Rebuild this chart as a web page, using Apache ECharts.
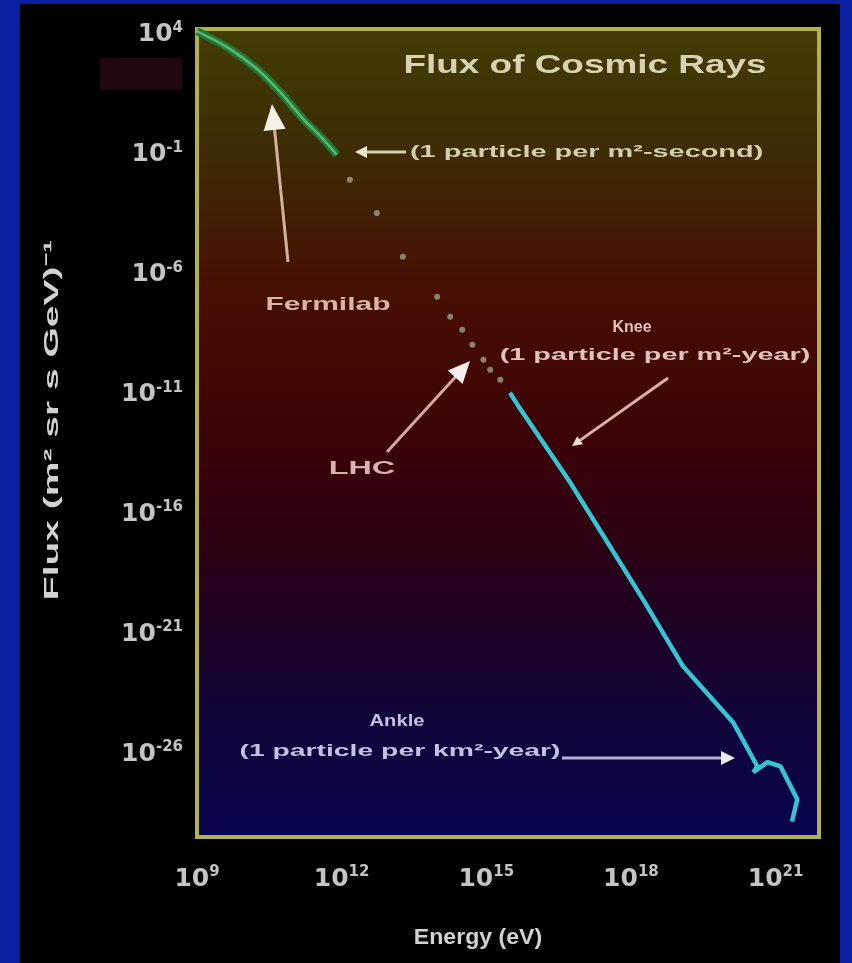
<!DOCTYPE html>
<html><head><meta charset="utf-8">
<script src="https://cdn.jsdelivr.net/npm/echarts@6/dist/echarts.min.js"></script>
<style>html,body{margin:0;padding:0;background:#0b1fa3;}#c{width:852px;height:963px;}</style>
</head><body><div id="c"></div>
<script>
// Axis tick exponents (labels read as 10^n)
const xTickExponents = [9, 12, 15, 18, 21];
const yTickExponents = [4, -1, -6, -11, -16, -21, -26];

// Values are log10(Energy / eV) and log10(Flux)
const lowLogE  = [9.0, 9.12, 9.68, 10.24, 10.72, 11.20, 11.61, 11.90];
const lowLogF  = [4.15, 4.04, 3.42, 2.59, 1.63, 0.50, -0.33, -1.0];
const dotLogE  = [12.17, 12.73, 13.27, 13.98, 14.25, 14.50, 14.71, 14.94, 15.08, 15.29];
const dotLogF  = [-2.04, -3.42, -5.25, -6.92, -7.75, -8.29, -8.92, -9.54, -9.96, -10.38];
const highLogE = [15.49, 15.66, 16.72, 18.25, 19.08, 20.12, 20.62, 20.54, 20.83, 21.10, 21.45, 21.34];
const highLogF = [-10.92, -11.46, -14.6, -19.54, -22.33, -24.67, -26.5, -26.75, -26.33, -26.5, -27.88, -28.8];

const pairs = (a, b) => a.map((v, i) => [v, b[i]]);
const FONT = '"Liberation Sans", Arial, sans-serif';
const TICKFONT = '"DejaVu Sans", sans-serif';

function arrow(x1, y1, x2, y2, color, headColor, w, hl, hw) {
  const dx = x2 - x1, dy = y2 - y1, L = Math.hypot(dx, dy), ux = dx / L, uy = dy / L;
  const bx = x2 - ux * hl, by = y2 - uy * hl, px = -uy, py = ux;
  return [
    {type: 'polyline', z: 10, shape: {points: [[x1, y1], [bx + ux * 2, by + uy * 2]]}, style: {stroke: color, lineWidth: w}},
    {type: 'polygon', z: 10, shape: {points: [[x2, y2], [bx + px * hw, by + py * hw], [bx - px * hw, by - py * hw]]}, style: {fill: headColor}}
  ];
}
function label(text, x, y, size, color, sx, align, rot) {
  return {type: 'text', z: 10, x: x, y: y, scaleX: sx || 1, rotation: rot || 0,
    style: {text: text, fill: color, fontSize: size, fontWeight: 'bold', fontFamily: FONT,
      align: align || 'center', verticalAlign: 'middle'}};
}
const supFmt = v => '{b|10}{s|' + v + '}';
const richLab = {
  b: {fontSize: 25, color: '#c4c4c4', fontFamily: TICKFONT, fontWeight: 'bold'},
  s: {fontSize: 15, color: '#c4c4c4', fontFamily: TICKFONT, fontWeight: 'bold', padding: [0, 0, 14, 0]}
};

const chart = echarts.init(document.getElementById('c'));
chart.setOption({
  backgroundColor: '#0b1fa3',
  animation: false,
  grid: {left: 197, top: 29, right: 33, bottom: 126, show: true,
    borderColor: '#b4b04c', borderWidth: 4,
    backgroundColor: {type: 'linear', x: 0, y: 0, x2: 0, y2: 1, colorStops: [
      {offset: 0, color: '#423d05'}, {offset: 0.15, color: '#3d2c04'},
      {offset: 0.33, color: '#470e03'}, {offset: 0.5, color: '#3c0306'},
      {offset: 0.65, color: '#2a0014'}, {offset: 0.8, color: '#150330'},
      {offset: 1, color: '#06054f'}]}},
  xAxis: {type: 'value', min: 9, max: 21.9,
    axisLine: {show: false}, axisTick: {show: false}, splitLine: {show: false},
    axisLabel: {customValues: xTickExponents, formatter: supFmt, rich: richLab, margin: 28}},
  yAxis: {type: 'value', min: -29.45, max: 4.25,
    axisLine: {show: false}, axisTick: {show: false}, splitLine: {show: false},
    axisLabel: {customValues: yTickExponents, formatter: supFmt, rich: richLab, margin: 14}},
  series: [
    {type: 'line', data: pairs(lowLogE, lowLogF), smooth: 0.4, symbol: 'none', z: 3,
      lineStyle: {width: 8, color: '#1e7a36'}},
    {type: 'line', data: pairs(lowLogE, lowLogF), smooth: 0.4, symbol: 'none', z: 4,
      lineStyle: {width: 2.5, color: '#79d08a', opacity: 0.7}},
    {type: 'scatter', data: pairs(dotLogE, dotLogF), symbolSize: 6, z: 4,
      itemStyle: {color: '#9aa08c'}},
    {type: 'line', data: pairs(highLogE, highLogF), symbol: 'none', z: 4,
      lineStyle: {width: 4.5, color: '#36c4d2'}}
  ],
  graphic: [
    {type: 'rect', z: -5, shape: {x: 20, y: 4, width: 820, height: 959}, style: {fill: '#000'}},
    {type: 'rect', z: -4, shape: {x: 100, y: 58, width: 82, height: 32}, style: {fill: '#200611'}},
    label('Flux of Cosmic Rays', 585, 66, 26, '#d8d2b4', 1.42),
    label('(1 particle per m²-second)', 410, 152, 17, '#d6ccae', 1.7, 'left'),
    ...arrow(406, 152, 355, 152, '#d6ccae', '#ece6d0', 3, 12, 6),
    label('Fermilab', 328, 305, 19, '#d8b6a6', 1.58),
    ...arrow(288, 262, 272, 104, '#d0b29e', '#f2f2e4', 3, 26, 11),
    label('LHC', 362, 469, 19, '#dcb0b0', 1.7),
    ...arrow(387, 452, 470, 361, '#d6a6a6', '#f4eeee', 3, 22, 10),
    label('Knee', 632, 328, 16, '#e0c2ba', 1.0),
    label('(1 particle per m²-year)', 655, 356, 16, '#e0c2ba', 1.8),
    ...arrow(668, 378, 572, 446, '#dab0a8', '#f0dcd4', 3, 10, 5),
    label('Ankle', 397, 722, 16, '#c8c0e0', 1.26),
    label('(1 particle per km²-year)', 400, 752, 16, '#c8c0e0', 1.77),
    ...arrow(562, 758, 735, 758, '#b8b0d8', '#ecebf6', 3, 14, 7),
    label('Flux (m² sr s GeV)⁻¹', 52, 420, 20, '#d2d2d2', 1.95, 'center', Math.PI / 2),
    label('Energy (eV)', 478, 938, 22, '#d2d2d2', 1.05)
  ]
});
</script></body></html>
